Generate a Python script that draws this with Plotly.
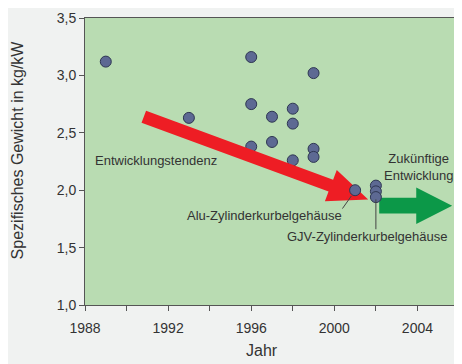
import numpy as np
import plotly.graph_objects as go

# ---- data ----
years = [1989, 1993, 1996, 1999, 1996, 1998, 1997, 1998, 1997, 1996, 1999, 1999, 1998]
weights = [3.12, 2.63, 3.16, 3.02, 2.75, 2.71, 2.64, 2.58, 2.42, 2.38, 2.36, 2.29, 2.26]
alu_year = [2001]
alu_weight = [2.00]
gjv_years = [2002, 2002, 2002]
gjv_weights = [2.04, 1.99, 1.94]

x_ticks = [1988, 1992, 1996, 2000, 2004]
y_ticks = [1.0, 1.5, 2.0, 2.5, 3.0, 3.5]

trend_arrow = {"tail": (1990.83, 2.64), "tip": (2001.63, 1.92)}
future_arrow = {"tail": (2002.16, 1.865), "tip": (2005.67, 1.865)}

# ---- layout geometry (page body has an 8px margin) ----
OFF = 8
W, H = 462 - OFF, 364 - OFF
PL, PT, PR, PB = 85, 13, 460, 305   # plot area on the page
ml, mt = PL - OFF, PT - OFF
mr = W - (PR - OFF)
mb = H - (PB - OFF)
xr = [1988, 2006]
yr = [1.0, 3.5]
pw, ph = PR - PL, PB - PT
sx = pw / (xr[1] - xr[0])
sy = ph / (yr[1] - yr[0])


def arrow_poly(tail, tip, shaft_hw, head_len, head_hw):
    t = np.array([tail[0] * sx, -tail[1] * sy])
    p = np.array([tip[0] * sx, -tip[1] * sy])
    d = p - t
    u = d / np.linalg.norm(d)
    n = np.array([-u[1], u[0]])
    b = p - u * head_len
    pts = [t + n * shaft_hw, b + n * shaft_hw, b + n * head_hw, p,
           b - n * head_hw, b - n * shaft_hw, t - n * shaft_hw, t + n * shaft_hw]
    xs = [q[0] / sx for q in pts]
    ys = [-q[1] / sy for q in pts]
    return xs, ys


fig = go.Figure()

dot_fill = "#5D6993"
dot_line = "#2E3652"

fig.add_trace(go.Scatter(x=years, y=weights, mode="markers",
                         marker=dict(size=11, color=dot_fill, line=dict(color=dot_line, width=1)),
                         hoverinfo="skip", showlegend=False))

rx, ry = arrow_poly(trend_arrow["tail"], trend_arrow["tip"], 6.5, 40, 17)
fig.add_trace(go.Scatter(x=rx, y=ry, mode="lines", fill="toself", fillcolor="#EE1D24",
                         line=dict(width=0, color="#EE1D24"), hoverinfo="skip", showlegend=False))

gx, gy = arrow_poly(future_arrow["tail"], future_arrow["tip"], 8, 36, 18.5)
fig.add_trace(go.Scatter(x=gx, y=gy, mode="lines", fill="toself", fillcolor="#0C9848",
                         line=dict(width=0, color="#0C9848"), hoverinfo="skip", showlegend=False))

fig.add_trace(go.Scatter(x=alu_year + gjv_years, y=alu_weight + gjv_weights, mode="markers",
                         marker=dict(size=11, color=dot_fill, line=dict(color=dot_line, width=1)),
                         hoverinfo="skip", showlegend=False))

# leader lines
fig.add_shape(type="line", x0=2000.82, y0=1.95, x1=2000.39, y1=1.84,
              line=dict(color="#444", width=1))
fig.add_shape(type="line", x0=2002, y0=1.92, x1=2002, y1=1.66,
              line=dict(color="#444", width=1))

txt = dict(family="Liberation Sans, Arial, sans-serif", size=13, color="#333")
for x, y, s in [(1991.41, 2.26, "Entwicklungstendenz"),
                (1996.64, 1.78, "Alu-Zylinderkurbelgehäuse"),
                (2001.59, 1.60, "GJV-Zylinderkurbelgehäuse"),
                (2004.03, 2.20, "Zukünftige<br>Entwicklung")]:
    fig.add_annotation(x=x, y=y, text=s, showarrow=False, font=txt,
                       xanchor="center", yanchor="middle")

title_font = dict(family="Liberation Sans, Arial, sans-serif", size=16, color="#333")
fig.add_annotation(xref="paper", yref="paper", x=(17 - PL) / pw, y=(PB - 147.5) / ph,
                   text="Spezifisches Gewicht in kg/kW", textangle=-90, showarrow=False,
                   font=title_font, xanchor="center", yanchor="middle")
fig.add_annotation(xref="paper", yref="paper", x=(262 - PL) / pw, y=(PB - 351) / ph,
                   text="Jahr", showarrow=False, font=title_font,
                   xanchor="center", yanchor="middle")

tick_font = dict(family="Liberation Sans, Arial, sans-serif", size=14, color="#333")
fig.update_layout(
    width=W, height=H,
    margin=dict(l=ml, r=mr, t=mt, b=mb),
    paper_bgcolor="#F0F2F1",
    plot_bgcolor="#B9DCB2",
    separators=",.",
    xaxis=dict(range=xr, tickvals=x_ticks, ticktext=[str(v) for v in x_ticks],
               ticks="outside", ticklen=5, tickcolor="#555", tickfont=tick_font,
               ticklabelstandoff=5,
               showgrid=False, zeroline=False, showline=True, mirror=True,
               linecolor="#555", linewidth=1,
               minor=dict(tickvals=list(range(1990, 2006, 4)), ticks="outside",
                          ticklen=5, tickcolor="#555", showgrid=False)),
    yaxis=dict(range=yr, tickvals=y_ticks, tickformat=".1f",
               ticks="outside", ticklen=5, tickcolor="#555", tickfont=tick_font,
               ticklabeloverflow="allow",
               showgrid=False, zeroline=False, showline=True, mirror=True,
               linecolor="#555", linewidth=1),
)

fig.write_html("out.html")
